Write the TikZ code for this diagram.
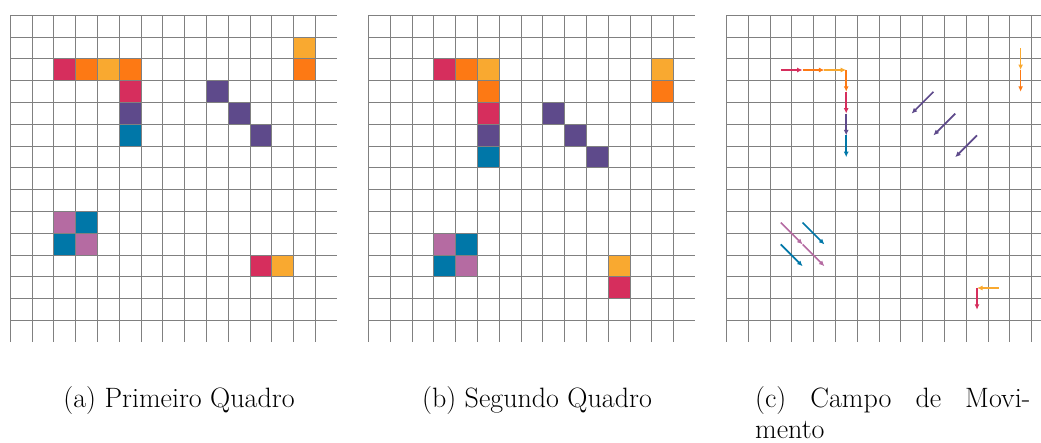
\documentclass[tikz,border=0pt]{standalone}
\usetikzlibrary{arrows.meta}
\definecolor{cr}{RGB}{214,46,93}
\definecolor{orr}{RGB}{253,121,20}
\definecolor{ye}{RGB}{249,169,48}
\definecolor{pu}{RGB}{94,74,139}
\definecolor{bl}{RGB}{0,119,168}
\definecolor{pk}{RGB}{181,107,162}
\tikzset{
  gridline/.style={draw=black!50, line width=0.6pt},
  mv/.style={line width=1.7pt, -{Latex[length=5.5pt,width=5pt]}},
  captext/.style={font=\fontsize{28}{32}\selectfont, inner sep=0pt}
}
\newcommand\gridpanel[1]{%
  \begin{scope}[shift={(#1,15)}]
    \foreach \k in {0,...,14}{
      \draw[gridline] (0,\k*21.8) -- (327,\k*21.8);
      \draw[gridline] (\k*21.8,0) -- (\k*21.8,327);
    }
  \end{scope}}
\newcommand\gcell[4]{\fill[#4] ({#1+#2*21.8},{15+#3*21.8}) rectangle ++(21.8,21.8);}
% centre of cell (col,row) in panel c
\newcommand\pc[2]{({726.3+(#1+0.5)*21.8},{15.5+(#2+0.5)*21.8})}
\begin{document}
\begin{tikzpicture}[x=1pt,y=-1pt]
\useasboundingbox (0,0) rectangle (1041,442);
% panel a cells
\gcell{10}{13}{1}{ye}
\gcell{10}{2}{2}{cr}\gcell{10}{3}{2}{orr}\gcell{10}{4}{2}{ye}\gcell{10}{5}{2}{orr}\gcell{10}{13}{2}{orr}
\gcell{10}{5}{3}{cr}\gcell{10}{9}{3}{pu}
\gcell{10}{5}{4}{pu}\gcell{10}{10}{4}{pu}
\gcell{10}{5}{5}{bl}\gcell{10}{11}{5}{pu}
\gcell{10}{2}{9}{pk}\gcell{10}{3}{9}{bl}
\gcell{10}{2}{10}{bl}\gcell{10}{3}{10}{pk}
\gcell{10}{11}{11}{cr}\gcell{10}{12}{11}{ye}
% panel b cells
\gcell{368.3}{3}{2}{cr}\gcell{368.3}{4}{2}{orr}\gcell{368.3}{5}{2}{ye}\gcell{368.3}{13}{2}{ye}
\gcell{368.3}{5}{3}{orr}\gcell{368.3}{13}{3}{orr}
\gcell{368.3}{5}{4}{cr}\gcell{368.3}{8}{4}{pu}
\gcell{368.3}{5}{5}{pu}\gcell{368.3}{9}{5}{pu}
\gcell{368.3}{5}{6}{bl}\gcell{368.3}{10}{6}{pu}
\gcell{368.3}{3}{10}{pk}\gcell{368.3}{4}{10}{bl}
\gcell{368.3}{3}{11}{bl}\gcell{368.3}{4}{11}{pk}\gcell{368.3}{11}{11}{ye}
\gcell{368.3}{11}{12}{cr}
% grids
\gridpanel{10}
\gridpanel{368.3}
\gridpanel{726.3}
% panel c arrows
\draw[mv, cr]  \pc{2}{2} -- \pc{3}{2};
\draw[mv, orr] \pc{3}{2} -- \pc{4}{2};
\draw[mv, ye]  \pc{4}{2} -- \pc{5}{2};
\draw[mv, orr] \pc{5}{2} -- \pc{5}{3};
\draw[mv, cr]  \pc{5}{3} -- \pc{5}{4};
\draw[mv, pu]  \pc{5}{4} -- \pc{5}{5};
\draw[mv, bl]  \pc{5}{5} -- \pc{5}{6};
\draw[mv, ye]  \pc{13}{1} -- \pc{13}{2};
\draw[mv, orr] \pc{13}{2} -- \pc{13}{3};
\draw[mv, pu]  \pc{9}{3} -- \pc{8}{4};
\draw[mv, pu]  \pc{10}{4} -- \pc{9}{5};
\draw[mv, pu]  \pc{11}{5} -- \pc{10}{6};
\draw[mv, pk]  \pc{2}{9} -- \pc{3}{10};
\draw[mv, pk]  \pc{3}{10} -- \pc{4}{11};
\draw[mv, bl]  \pc{3}{9} -- \pc{4}{10};
\draw[mv, bl]  \pc{2}{10} -- \pc{3}{11};
\draw[mv, ye]  \pc{12}{12} -- \pc{11}{12};
\draw[mv, cr]  \pc{11}{12} -- \pc{11}{13};
% captions
\node[captext, anchor=base] (capa) at (179,407.5) {(a) Primeiro Quadro};
\node[captext, anchor=base] (capb) at (537,407.5) {(b) Segundo Quadro};
\node[captext, anchor=base west] (capc) at (755,407.5) {\makebox[275pt][s]{(c) Campo de Movi-}};
\node[captext, anchor=base west] (capd) at (755,438) {mento};
\end{tikzpicture}
\end{document}
